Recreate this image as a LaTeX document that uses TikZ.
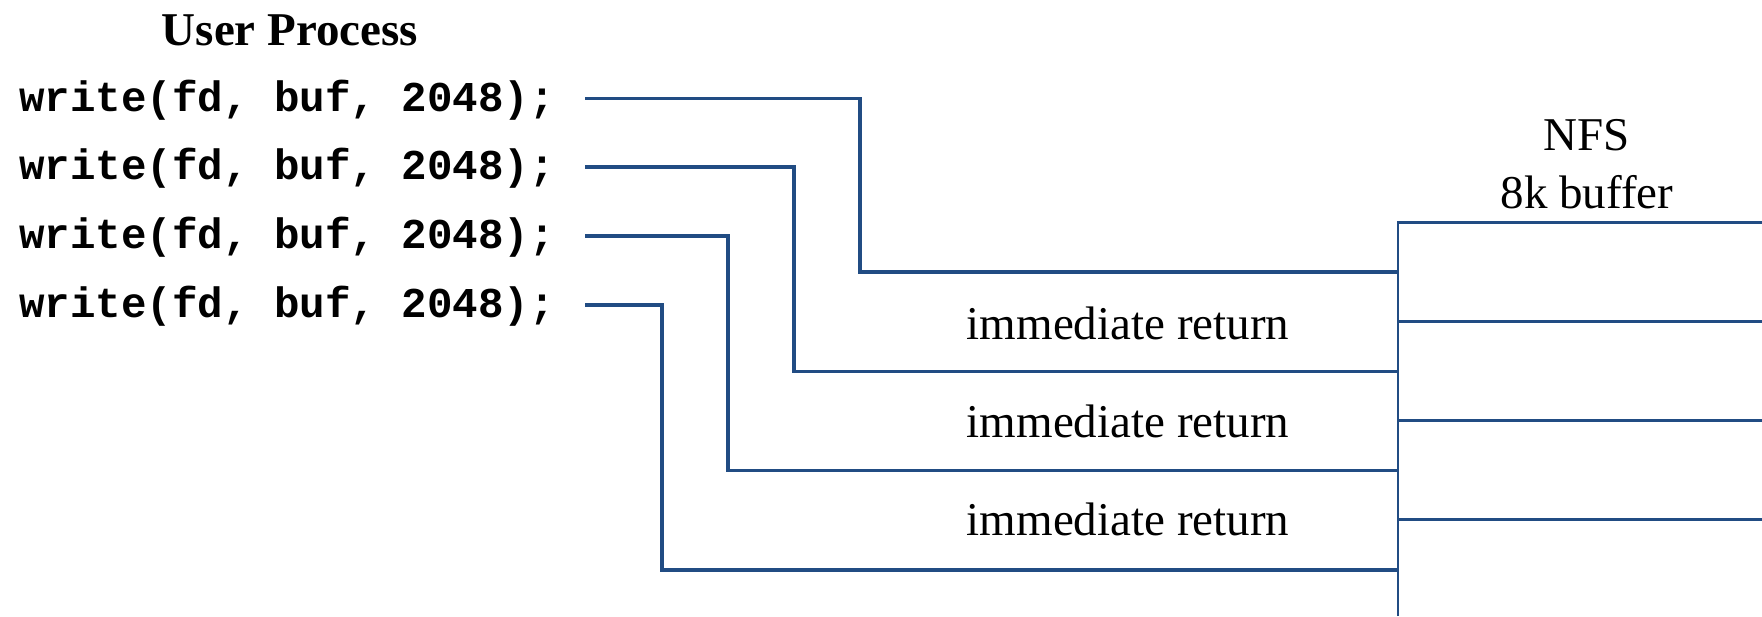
\documentclass[tikz,border=0pt]{standalone}
\usepackage{fontspec}
\setmainfont{Liberation Serif}
\setmonofont{Liberation Mono}
\definecolor{nblue}{RGB}{33,76,131}
\begin{document}
\begin{tikzpicture}[x=0.5pt,y=-0.5pt,
  conn/.style={draw=nblue, line width=1.65pt},
  bufline/.style={draw=nblue, line width=1.1pt},
  code/.style={font=\fontsize{21.25}{25}\selectfont\ttfamily\bfseries, anchor=base west, inner sep=0pt},
  lbl/.style={font=\fontsize{23.5}{29}\selectfont, inner sep=0pt}]
\useasboundingbox (0,0) rectangle (1762,616);
% title
\node[lbl, font=\fontsize{23.5}{29}\selectfont\bfseries, anchor=base] (title) at (290,45) {User Process};
% write calls
\node[code] (w1) at (19,111) {write(fd, buf, 2048);};
\node[code] (w2) at (19,179.5) {write(fd, buf, 2048);};
\node[code] (w3) at (19,248.5) {write(fd, buf, 2048);};
\node[code] (w4) at (19,317.5) {write(fd, buf, 2048);};
% connector start points
\coordinate (s1) at (585,98.5);
\coordinate (s2) at (585,167);
\coordinate (s3) at (585,236);
\coordinate (s4) at (585,305);
% turning points
\coordinate (t1) at (860,272);
\coordinate (t2) at (794,371.5);
\coordinate (t3) at (728,470.5);
\coordinate (t4) at (662,570);
% buffer end points
\coordinate (b1) at (1398,272);
\coordinate (b2) at (1398,371.5);
\coordinate (b3) at (1398,470.5);
\coordinate (b4) at (1398,570);
\draw[conn] (s1) -| (t1) -- (b1);
\draw[conn] (s2) -| (t2) -- (b2);
\draw[conn] (s3) -| (t3) -- (b3);
\draw[conn] (s4) -| (t4) -- (b4);
% buffer
\coordinate (btop) at (1398,222.5);
\coordinate (bbot) at (1398,616);
\coordinate (rtop) at (1762,222.5);
\draw[bufline] (bbot) -- (btop) -- (rtop);
\coordinate (d1) at (1398,321.5);
\coordinate (d2) at (1398,420.5);
\coordinate (d3) at (1398,519.5);
\coordinate (e1) at (1762,321.5);
\coordinate (e2) at (1762,420.5);
\coordinate (e3) at (1762,519.5);
\draw[bufline] (d1) -- (e1);
\draw[bufline] (d2) -- (e2);
\draw[bufline] (d3) -- (e3);
\node[lbl, align=center, anchor=south] (nfs) at (1587,209) {NFS\\8k buffer};
% immediate returns
\node[lbl, anchor=base] (r1) at (1128,339) {immediate return};
\node[lbl, anchor=base] (r2) at (1128,437) {immediate return};
\node[lbl, anchor=base] (r3) at (1128,535) {immediate return};
\end{tikzpicture}
\end{document}
